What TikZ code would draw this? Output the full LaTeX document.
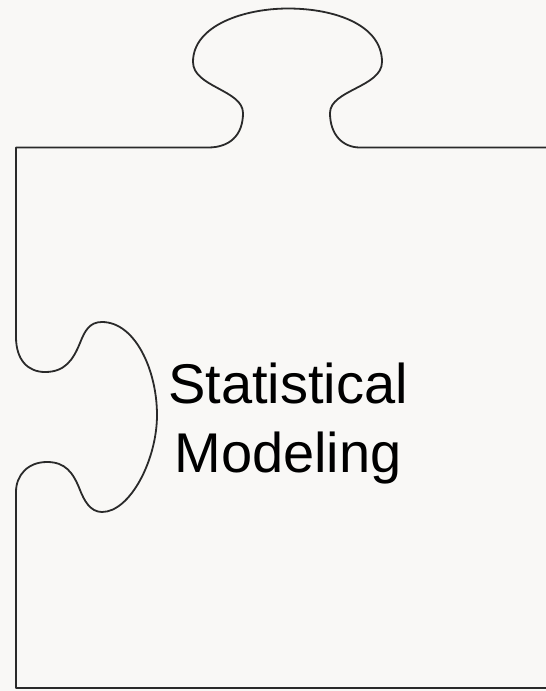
\documentclass[tikz,border=0pt]{standalone}
\usepackage{fontspec}
\setmainfont{Liberation Sans}
\definecolor{bgcol}{HTML}{F9F8F6}
\definecolor{edgecol}{HTML}{2A2A2A}
\begin{document}
\begin{tikzpicture}[x=1pt,y=-1pt,
  piece/.style={draw=edgecol,line width=1.8pt,line join=round},
  label/.style={font=\fontsize{56}{69}\selectfont,text=black,anchor=base,inner sep=0pt}]
\useasboundingbox (0,0) rectangle (546,691);
\fill[bgcol] (0,0) rectangle (546,691);
\begin{scope}
\clip (0,0) rectangle (546,691);
\draw[piece] (560,147.5) -- (360,147.5)
  .. controls (343,147.5) and (330,135) .. (330,113)
  .. controls (330,90) and (382,87) .. (382,62)
  .. controls (382,25) and (335,8.5) .. (288,8.5)
  .. controls (245,8.5) and (193,25) .. (193,62)
  .. controls (193,87) and (243,90) .. (243,113)
  .. controls (243,135) and (230,147.5) .. (208,147.5)
  -- (16,147.5) -- (16,337)
  .. controls (16,360) and (28,372) .. (45,372)
  .. controls (65,372) and (73,360) .. (80,343)
  .. controls (85,330) and (90,322) .. (102,322)
  .. controls (135,322) and (157,370) .. (157,415)
  .. controls (157,460) and (130,512) .. (102,512)
  .. controls (90,512) and (84,500) .. (80,490)
  .. controls (73,472) and (65,462) .. (47,462)
  .. controls (28,462) and (16,475) .. (16,492)
  -- (16,688) -- (560,688);
\end{scope}
\node[label] (line1) at (288,403) {Statistical};
\node[label] (line2) at (288,472) {Modeling};
\end{tikzpicture}
\end{document}
